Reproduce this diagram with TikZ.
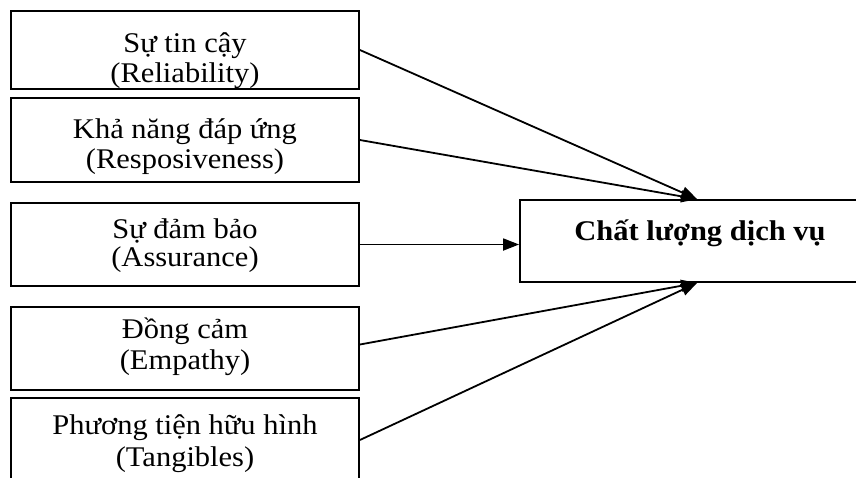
\documentclass[tikz,border=0pt]{standalone}
\usepackage{fontspec}
\setmainfont{Liberation Serif}[FakeStretch=1.07]
\usetikzlibrary{arrows.meta}
\tikzset{
  srcbox/.style={draw=black, line width=1.8pt, rectangle, inner sep=0pt, minimum width=348pt},
  tgtbox/.style={draw=black, line width=1.8pt, rectangle, inner sep=0pt},
  lbl/.style={anchor=base, inner sep=0pt, font=\fontsize{28.5}{32}\selectfont},
  ttl/.style={anchor=base, inner sep=0pt, font=\fontsize{28.5}{32}\selectfont\bfseries},
  conn/.style={line width=1.8pt, -{Triangle[length=16pt,width=12pt]}}
}
\begin{document}
\begin{tikzpicture}[x=1pt,y=-1pt]
\useasboundingbox[fill=white] (0,0) rectangle (856,477);
% source boxes
\node[srcbox, minimum height=78pt] (b1) at (185,50) {};
\node[srcbox, minimum height=84pt] (b2) at (185,140) {};
\node[srcbox, minimum height=83pt] (b3) at (185,244.5) {};
\node[srcbox, minimum height=83pt] (b4) at (185,348.5) {};
\node[srcbox, minimum height=84pt] (b5) at (185,440) {};
% target box
\node[tgtbox, minimum width=380pt, minimum height=82pt] (t) at (710,241) {};
% texts
\node[lbl] (l1a) at (185,52) {Sự tin cậy};
\node[lbl] (l1b) at (185,82) {(Reliability)};
\node[lbl] (l2a) at (185,138) {Khả năng đáp ứng};
\node[lbl] (l2b) at (185,168) {(Resposiveness)};
\node[lbl] (l3a) at (185,238) {Sự đảm bảo};
\node[lbl] (l3b) at (185,266) {(Assurance)};
\node[lbl] (l4a) at (185,338) {Đồng cảm};
\node[lbl] (l4b) at (185,369) {(Empathy)};
\node[lbl] (l5a) at (185,434) {Phương tiện hữu hình};
\node[lbl] (l5b) at (185,466) {(Tangibles)};
\node[ttl] (tt) at (700,240) {Chất lượng dịch vụ};
% arrow end points on the target box
\coordinate (tin) at ([xshift=178pt]t.north west);
\coordinate (bin) at ([xshift=178pt]t.south west);
% connectors
\draw[conn] (b1.east) -- (tin);
\draw[conn] (b2.east) -- (tin);
\draw[conn] (b3.east) -- (t.west |- b3.east);
\draw[conn] ([yshift=4pt]b4.east) -- (bin);
\draw[conn] (b5.east) -- (bin);
\end{tikzpicture}
\end{document}
